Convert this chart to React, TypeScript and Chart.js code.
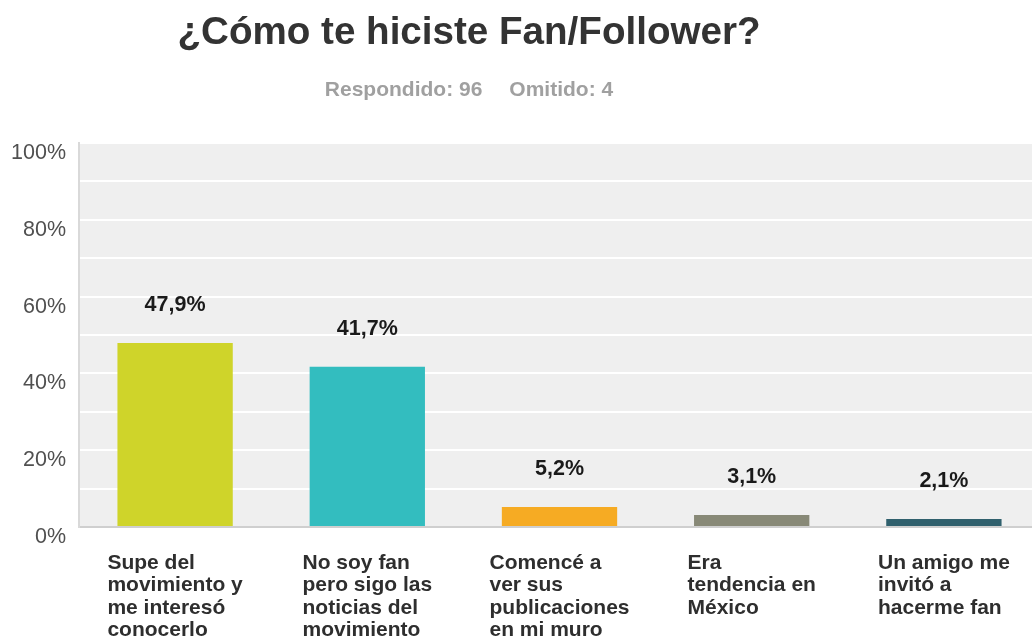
import React, { useEffect, useRef } from "react";
import { Chart, registerables } from "chart.js";

Chart.register(...registerables);

const categories: string[][] = [
  ["Supe del", "movimiento y", "me interesó", "conocerlo"],
  ["No soy fan", "pero sigo las", "noticias del", "movimiento"],
  ["Comencé a", "ver sus", "publicaciones", "en mi muro"],
  ["Era", "tendencia en", "México"],
  ["Un amigo me", "invitó a", "hacerme fan"],
];
const values: number[] = [47.9, 41.7, 5.2, 3.1, 2.1];
const barColors: string[] = ["#cfd42a", "#33bdbf", "#f6ab23", "#888977", "#30606d"];
const yTicks: number[] = [0, 20, 40, 60, 80, 100];

const FONT = '"Liberation Sans", Arial, sans-serif';

const plotBg = {
  id: "plotBg",
  beforeDraw(chart: any) {
    const { ctx, chartArea } = chart;
    ctx.save();
    ctx.fillStyle = "#efefef";
    ctx.fillRect(chartArea.left, chartArea.top, chartArea.right - chartArea.left, chartArea.bottom - chartArea.top);
    ctx.restore();
  },
};

const valueLabels = {
  id: "valueLabels",
  afterDatasetsDraw(chart: any) {
    const { ctx } = chart;
    const meta = chart.getDatasetMeta(0);
    ctx.save();
    ctx.font = `bold 21.5px ${FONT}`;
    ctx.fillStyle = "#1a1a1a";
    ctx.textAlign = "center";
    ctx.textBaseline = "middle";
    meta.data.forEach((bar: any, i: number) => {
      const txt = values[i].toFixed(1).replace(".", ",") + "%";
      ctx.fillText(txt, bar.x, bar.y - 38);
    });
    ctx.restore();
  },
};

const xLabels = {
  id: "xLabels",
  afterDraw(chart: any) {
    const { ctx, chartArea } = chart;
    const xScale = chart.scales.x;
    ctx.save();
    ctx.font = `bold 21px ${FONT}`;
    ctx.fillStyle = "#2e2e2e";
    ctx.textAlign = "left";
    ctx.textBaseline = "middle";
    categories.forEach((lines, i) => {
      const cx = xScale.getPixelForValue(i);
      const maxW = Math.max(...lines.map((l) => ctx.measureText(l).width));
      const left = cx - maxW / 2;
      lines.forEach((line, j) => {
        ctx.fillText(line, left, chartArea.bottom + 36 + j * 22.5);
      });
    });
    ctx.restore();
  },
};

export default function App() {
  const canvasRef = useRef<HTMLCanvasElement | null>(null);

  useEffect(() => {
    if (!canvasRef.current) return;
    const chart = new Chart(canvasRef.current, {
      type: "bar",
      data: {
        labels: categories.map((c) => c.join(" ")),
        datasets: [
          {
            data: values,
            backgroundColor: barColors,
            borderWidth: 0,
            barPercentage: 0.6,
            categoryPercentage: 1,
          },
        ],
      },
      options: {
        responsive: false,
        animation: false,
        layout: { padding: { top: 143, left: 0, right: 0, bottom: 0 } },
        plugins: {
          legend: { display: false },
          tooltip: { enabled: false },
          title: { display: false },
        },
        scales: {
          x: {
            grid: { display: false },
            ticks: { display: false },
            border: { display: true, color: "#cfcfcf", width: 2 },
            afterFit(scale: any) {
              scale.height = 117;
            },
          },
          y: {
            min: 0,
            max: 100,
            ticks: {
              stepSize: 10,
              padding: 13,
              labelOffset: 10,
              color: "#505050",
              font: { family: FONT, size: 21.5 },
              callback: (v: any) => (yTicks.includes(Number(v)) ? `${v}%` : ""),
            },
            grid: { color: "#ffffff", lineWidth: 2, drawTicks: false },
            border: { display: true, color: "#d9d9d9", width: 2 },
            afterFit(scale: any) {
              scale.width = 79;
            },
          },
        },
      },
      plugins: [plotBg, valueLabels, xLabels],
    });
    return () => chart.destroy();
  }, []);

  return (
    <div
      style={{
        position: "fixed",
        left: 0,
        top: 0,
        width: 1032,
        height: 644,
        overflow: "hidden",
        background: "#ffffff",
        fontFamily: FONT,
      }}
    >
      <canvas
        ref={canvasRef}
        width={1040}
        height={644}
        style={{ position: "absolute", left: 0, top: 0, width: 1040, height: 644 }}
      />
      <div
        style={{
          position: "absolute",
          left: 0,
          top: 11,
          width: 938,
          textAlign: "center",
          fontSize: 38.6,
          lineHeight: "39px",
          fontWeight: "bold",
          color: "#333333",
        }}
      >
        ¿Cómo te hiciste Fan/Follower?
      </div>
      <div
        style={{
          position: "absolute",
          left: 0,
          top: 78,
          width: 938,
          textAlign: "center",
          fontSize: 21,
          lineHeight: "21px",
          fontWeight: "bold",
          color: "#a0a0a0",
        }}
      >
        <span>Respondido: 96</span>
        <span style={{ marginLeft: 27 }}>Omitido: 4</span>
      </div>
    </div>
  );
}
